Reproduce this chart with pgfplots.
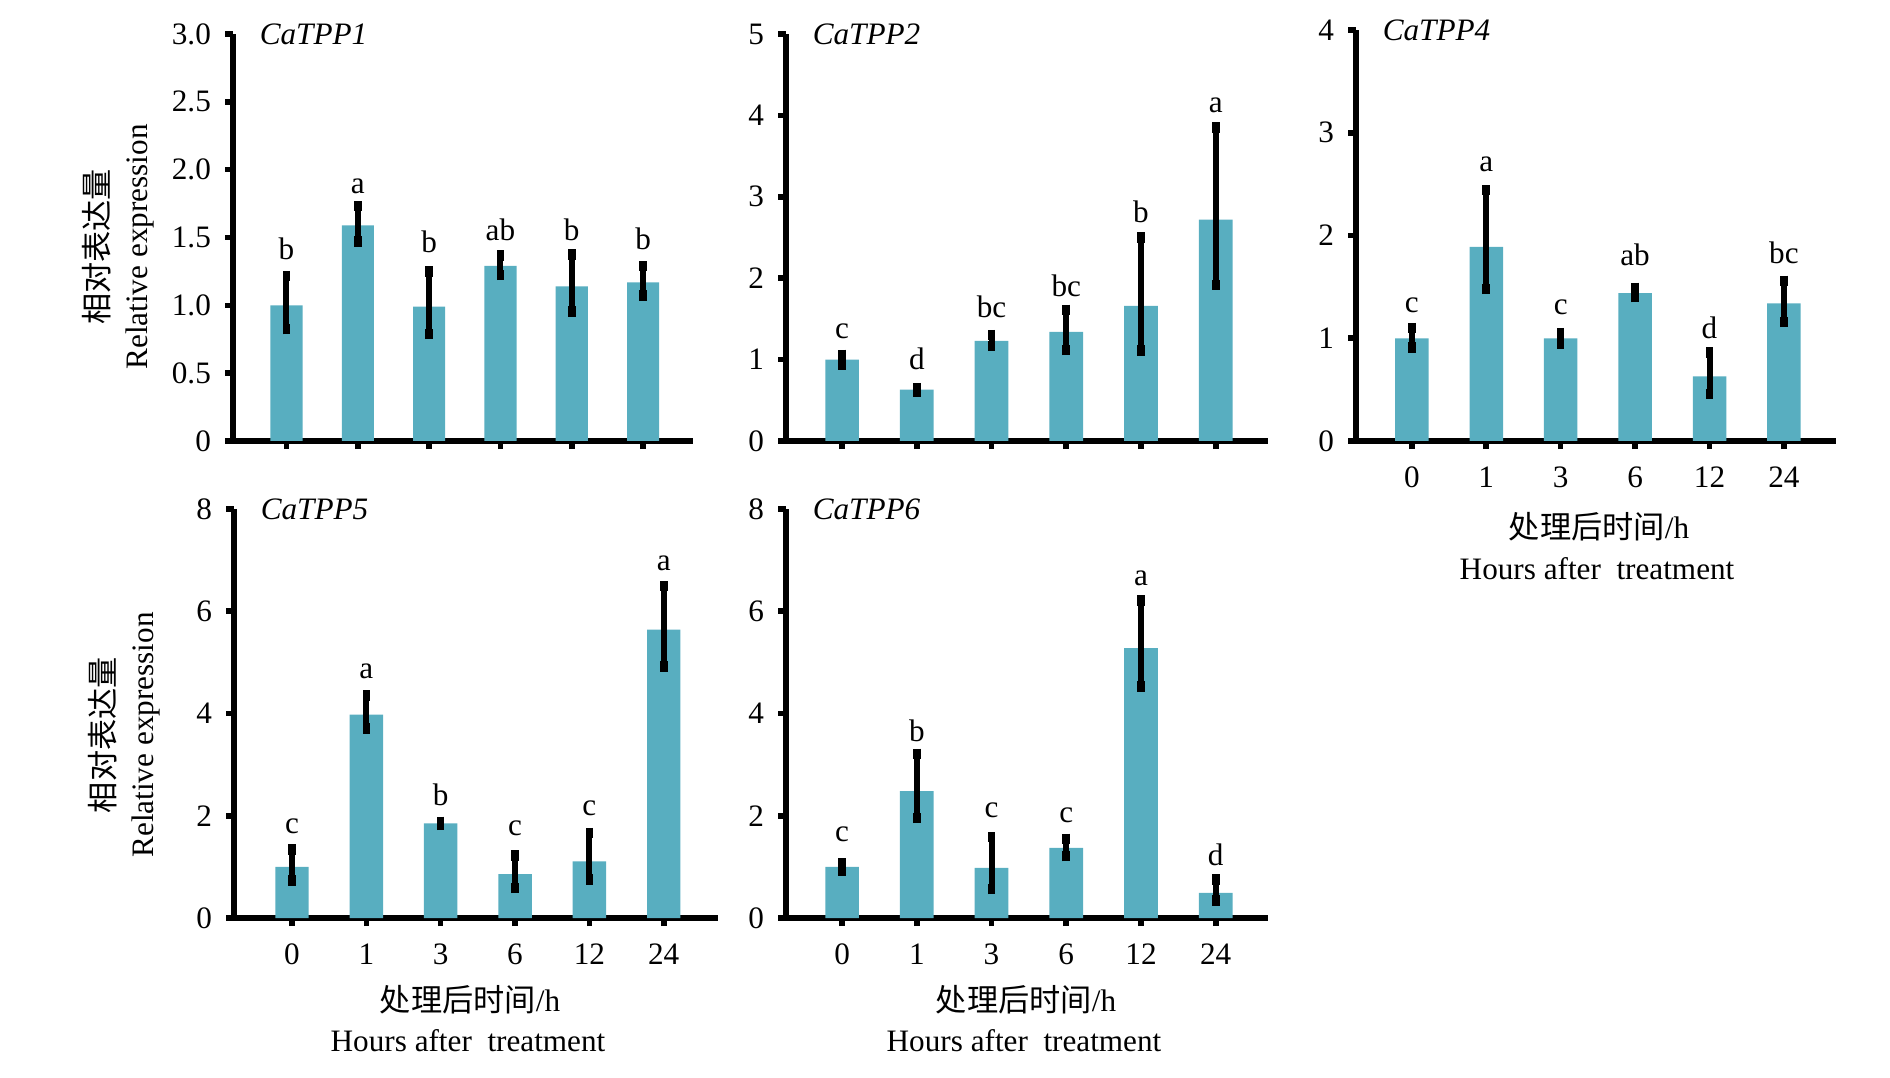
\documentclass[border=0pt]{standalone}
\usepackage{pgfplots}
\pgfplotsset{compat=1.18}
\usepackage{fontspec}
\setmainfont{Liberation Serif}
\newfontfamily\cjk{Noto Sans CJK SC}
\definecolor{barc}{RGB}{88,174,192}
\newcommand\tfont{\fontsize{7.8}{9}\selectfont}
\newcommand\lab[3]{\node[anchor=base,font=\tfont,inner sep=0pt] at (axis cs:#1,#2) {#3};}
\newcommand\gtitle[1]{\node[anchor=west,xshift=6.5pt,font=\tfont\itshape,inner sep=0pt] at (rel axis cs:0,1) {#1};}
\pgfplotsset{
  panel/.style={
    scale only axis,
    axis x line*=bottom, axis y line*=left,
    axis line style={line width=1.4pt,-},
    xmin=-0.75, xmax=5.7, ymin=0,
    xtick={0,1,2,3,4,5},
    xticklabels={0,1,3,6,12,24},
    tick align=outside, major tick length=2pt,
    every tick/.style={black, line width=1.4pt},
    tick label style={font=\tfont},
    xticklabel style={yshift=-1pt},
    ybar, bar width=0.45,
    clip=false,
  },
  bars/.style={
    fill=barc, draw=none,
    error bars/.cd,
      y dir=both, y explicit,
      error bar style={line width=1.5pt, black},
      error mark options={line width=1.9pt, black, mark size=1.3pt},
  },
}
\begin{document}
\begin{tikzpicture}
\useasboundingbox (0,0) rectangle (472.5pt,-269.5pt);

% ---------- CaTPP1 ----------
\begin{axis}[panel, at={(58.25pt,-110.25pt)}, anchor=south west,
  width=115pt, height=101.75pt, ymax=3,
  ytick={0,0.5,1,1.5,2,2.5,3}, yticklabels={0,0.5,1.0,1.5,2.0,2.5,3.0},
  xticklabels={}]
\addplot[bars] table[x=x,y=y,y error plus=ep,y error minus=em]{
x y ep em
0 1.00 0.215 0.176
1 1.59 0.14 0.12
2 0.99 0.26 0.20
3 1.29 0.076 0.066
4 1.14 0.235 0.185
5 1.17 0.118 0.098
};
\gtitle{CaTPP1}
\lab{0}{1.337}{b}\lab{1}{1.826}{a}\lab{2}{1.39}{b}\lab{3}{1.48}{ab}\lab{4}{1.48}{b}\lab{5}{1.41}{b}
\end{axis}

% ---------- CaTPP2 ----------
\begin{axis}[panel, at={(196.5pt,-110.25pt)}, anchor=south west,
  width=120.5pt, height=101.75pt, ymax=5,
  ytick={0,1,2,3,4,5}, yticklabels={0,1,2,3,4,5},
  xticklabels={}]
\addplot[bars] table[x=x,y=y,y error plus=ep,y error minus=em]{
x y ep em
0 1.00 0.06 0.06
1 0.63 0.02 0.02
2 1.23 0.07 0.06
3 1.34 0.27 0.22
4 1.66 0.84 0.55
5 2.72 1.13 0.80
};
\gtitle{CaTPP2}
\lab{0}{1.26}{c}\lab{1}{0.88}{d}\lab{2}{1.52}{bc}\lab{3}{1.78}{bc}\lab{4}{2.69}{b}\lab{5}{4.04}{a}
\end{axis}

% ---------- CaTPP4 ----------
\begin{axis}[panel, at={(339pt,-110.25pt)}, anchor=south west,
  width=120pt, height=102.75pt, ymax=4,
  ytick={0,1,2,3,4}, yticklabels={0,1,2,3,4}]
\addplot[bars] table[x=x,y=y,y error plus=ep,y error minus=em]{
x y ep em
0 1.00 0.10 0.09
1 1.89 0.55 0.41
2 1.00 0.05 0.05
3 1.44 0.05 0.04
4 0.63 0.23 0.17
5 1.34 0.22 0.18
};
\gtitle{CaTPP4}
\lab{0}{1.25}{c}\lab{1}{2.62}{a}\lab{2}{1.23}{c}\lab{3}{1.71}{ab}\lab{4}{1.0}{d}\lab{5}{1.73}{bc}
\end{axis}

% ---------- CaTPP5 ----------
\begin{axis}[panel, at={(58.5pt,-229.5pt)}, anchor=south west,
  width=121pt, height=102.25pt, ymax=8, xmin=-0.78, xmax=5.73,
  ytick={0,2,4,6,8}, yticklabels={0,2,4,6,8}]
\addplot[bars] table[x=x,y=y,y error plus=ep,y error minus=em]{
x y ep em
0 1.00 0.34 0.27
1 3.98 0.37 0.27
2 1.85 0.03 0.03
3 0.86 0.36 0.27
4 1.11 0.55 0.36
5 5.64 0.85 0.72
};
\gtitle{CaTPP5}
\lab{0}{1.66}{c}\lab{1}{4.68}{a}\lab{2}{2.21}{b}\lab{3}{1.62}{c}\lab{4}{2.0}{c}\lab{5}{6.79}{a}
\end{axis}

% ---------- CaTPP6 ----------
\begin{axis}[panel, at={(196.5pt,-229.5pt)}, anchor=south west,
  width=120.5pt, height=102.25pt, ymax=8,
  ytick={0,2,4,6,8}, yticklabels={0,2,4,6,8}]
\addplot[bars] table[x=x,y=y,y error plus=ep,y error minus=em]{
x y ep em
0 1.00 0.07 0.07
1 2.48 0.73 0.52
2 0.98 0.60 0.41
3 1.37 0.18 0.16
4 5.28 0.93 0.75
5 0.49 0.26 0.15
};
\gtitle{CaTPP6}
\lab{0}{1.49}{c}\lab{1}{3.45}{b}\lab{2}{1.96}{c}\lab{3}{1.86}{c}\lab{4}{6.5}{a}\lab{5}{1.03}{d}
\end{axis}

% ---------- axis titles ----------
\node[rotate=90,font=\tfont\cjk] at (24.25pt,-61.75pt) {相对表达量};
\node[rotate=90,font=\tfont] at (35pt,-61.75pt) {Relative expression};
\node[rotate=90,font=\tfont\cjk] at (25.75pt,-183.75pt) {相对表达量};
\node[rotate=90,font=\tfont] at (36.5pt,-183.75pt) {Relative expression};

\node[font=\tfont] at (399.75pt,-131.75pt) {{\cjk 处理后时间}/h};
\node[font=\tfont] at (399.25pt,-142.25pt) {Hours after~ treatment};
\node[font=\tfont] at (117.5pt,-250pt) {{\cjk 处理后时间}/h};
\node[font=\tfont] at (117pt,-260.25pt) {Hours after~ treatment};
\node[font=\tfont] at (256.5pt,-250pt) {{\cjk 处理后时间}/h};
\node[font=\tfont] at (256pt,-260.25pt) {Hours after~ treatment};
\end{tikzpicture}
\end{document}
